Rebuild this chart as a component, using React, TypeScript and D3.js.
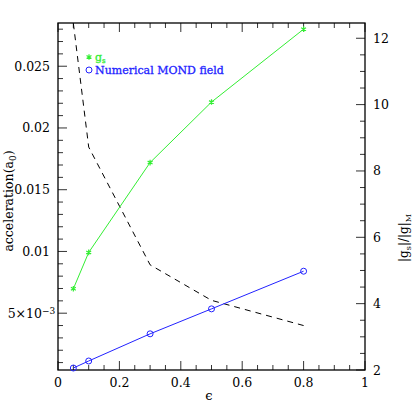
import React from 'react'
import * as d3 from 'd3'

// values
const epsilon = [0.05, 0.1, 0.3, 0.5, 0.8]
const gsValues = [0.00698, 0.00992, 0.0172, 0.0221, 0.028]
const mondValues = [0.00056, 0.00113, 0.00333, 0.00535, 0.0084]
const ratioValues = [12.45, 8.72, 5.17, 4.1, 3.34]

const xTicks = [0, 0.2, 0.4, 0.6, 0.8, 1]
const xTickLabels = ['0', '0.2', '0.4', '0.6', '0.8', '1']
const leftTicks = [0.005, 0.01, 0.015, 0.02, 0.025]
const leftTickLabels = ['5×10', '0.01', '0.015', '0.02', '0.025']
const rightTicks = [2, 4, 6, 8, 10, 12]

const W = 415
const H = 415
const left = 58
const right = 365
const top = 23
const bottom = 370

const GREEN = '#33ee33'
const BLUE = '#2222ff'
const FONT = 'DejaVu Serif'

const App = () => {
    const x = d3.scaleLinear().domain([0, 1]).range([left, right])
    const yL = d3.scaleLinear().domain([0.0004, 0.0285]).range([bottom, top])
    const yR = d3.scaleLinear().domain([2, 12.46]).range([bottom, top])

    const gsLine = d3.line<number>().x((d, i) => x(epsilon[i])).y(d => yL(d))
    const ratioLine = d3.line<number>().x((d, i) => x(epsilon[i])).y(d => yR(d))

    const star = d3.symbol().type(d3.symbolAsterisk).size(22)

    const xMinor = d3.range(0, 1.0001, 0.05)
    const leftMinor = d3.range(0.001, 0.0285, 0.001)
    const rightMinor = d3.range(2, 12.46, 0.5)

    return (
        <svg width={W} height={H} style={{position: 'absolute', left: 0, top: 0}} fontFamily={FONT}>
            <defs>
                <clipPath id='plotclip'>
                    <rect x={left} y={top} width={right - left} height={bottom - top} />
                </clipPath>
            </defs>

            {/* ticks on bottom and top */}
            {xMinor.map((t, i) => {
                const major = Math.abs(t / 0.2 - Math.round(t / 0.2)) < 1e-6
                const len = major ? 9 : 5
                return (
                    <g key={'xt' + i} stroke='#333' strokeWidth={1}>
                        <line x1={x(t)} x2={x(t)} y1={bottom} y2={bottom - len} />
                        <line x1={x(t)} x2={x(t)} y1={top} y2={top + len} />
                    </g>
                )
            })}
            {leftMinor.map((t, i) => {
                const major = Math.abs(t / 0.005 - Math.round(t / 0.005)) < 1e-6
                return <line key={'lt' + i} x1={left} x2={left + (major ? 9 : 5)} y1={yL(t)} y2={yL(t)} stroke='#333' />
            })}
            {rightMinor.map((t, i) => {
                const major = Math.abs(t / 2 - Math.round(t / 2)) < 1e-6
                return <line key={'rt' + i} x1={right} x2={right - (major ? 9 : 5)} y1={yR(t)} y2={yR(t)} stroke='#333' />
            })}

            <rect x={left} y={top} width={right - left} height={bottom - top} fill='none' stroke='#000' strokeWidth={1.3} />

            {/* tick labels */}
            {xTicks.map((t, i) => (
                <text key={'xl' + i} x={x(t)} y={387} fontSize={12.5} textAnchor='middle'>{xTickLabels[i]}</text>
            ))}
            {leftTicks.map((t, i) => (
                <text key={'ll' + i} x={i === 0 ? 42 : 50} y={yL(t) + 4.5} fontSize={12.5} textAnchor='end'>
                    {leftTickLabels[i]}
                </text>
            ))}
            <text x={42} y={yL(0.005) + 0.5} fontSize={9}>−3</text>
            {rightTicks.map((t, i) => (
                <text key={'rl' + i} x={373} y={yR(t) + 4.5} fontSize={12.5}>{t}</text>
            ))}

            {/* axis titles */}
            <text x={209} y={400} fontSize={13} textAnchor='middle'>ϵ</text>
            <text transform='translate(13,201) rotate(-90)' fontSize={12.5} textAnchor='middle'>
                acceleration(a<tspan fontSize={9} dy={3}>0</tspan><tspan dy={-3}>)</tspan>
            </text>
            <text transform='translate(408,238) rotate(-90)' fontSize={12} textAnchor='middle'>
                |g<tspan fontSize={8} dy={3}>s</tspan><tspan dy={-3}>|/|g|</tspan><tspan fontSize={8} dy={3}>M</tspan>
            </text>

            {/* series */}
            <g clipPath='url(#plotclip)'>
                <path d={ratioLine(ratioValues) || ''} fill='none' stroke='#000' strokeWidth={1} strokeDasharray='6,5' />
            </g>
            <path d={gsLine(gsValues) || ''} fill='none' stroke={GREEN} strokeWidth={1} />
            {gsValues.map((v, i) => (
                <path key={'gs' + i} d={star() || ''} transform={`translate(${x(epsilon[i])},${yL(v)})`} fill='none' stroke={GREEN} strokeWidth={1.2} />
            ))}
            <path d={gsLine(mondValues) || ''} fill='none' stroke={BLUE} strokeWidth={1} />
            {mondValues.map((v, i) => (
                <circle key={'mo' + i} cx={x(epsilon[i])} cy={yL(v)} r={3} fill='none' stroke={BLUE} strokeWidth={1} />
            ))}

            {/* legend */}
            <path d={star() || ''} transform='translate(89,57)' fill='none' stroke={GREEN} strokeWidth={1.2} />
            <text x={95} y={61} fontSize={11} fill={GREEN} stroke={GREEN} strokeWidth={0.3}>
                g<tspan fontSize={7} dy={2}>s</tspan>
            </text>
            <circle cx={89} cy={70} r={3} fill='none' stroke={BLUE} strokeWidth={1} />
            <text x={95} y={74} fontSize={11} fill={BLUE} stroke={BLUE} strokeWidth={0.3}>Numerical MOND field</text>
        </svg>
    )
}

export default App
